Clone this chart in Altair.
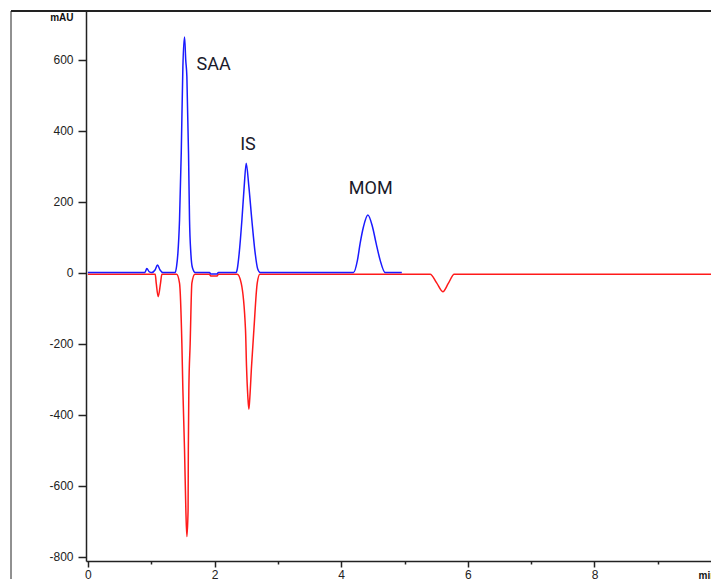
import altair as alt
import pandas as pd

# ---- data ----
blue_time = [0.0, 0.90, 0.931, 0.97, 1.01, 1.06, 1.099, 1.14, 1.184, 1.379, 1.40, 1.421, 1.447, 1.474,
             1.500, 1.526, 1.545, 1.563, 1.589, 1.605, 1.626, 1.65, 1.695, 1.92, 1.94, 2.04, 2.06,
             2.342, 2.36, 2.389, 2.432, 2.468, 2.50, 2.542, 2.589, 2.642, 2.68, 2.721,
             4.194, 4.257, 4.299, 4.352, 4.421, 4.494, 4.552, 4.615, 4.694, 4.957]
blue_mau = [1, 1, 12, 3, 1, 8, 22, 8, 1, 1, 18, 55, 149, 337,
            581, 665, 600, 553, 337, 149, 55, 15, 1, 1, -3, -3, 1,
            1, 12, 55, 149, 243, 309, 243, 149, 55, 12, 1,
            1, 36, 83, 130, 163, 130, 83, 36, 1, 1]

red_time = [0.0, 1.063, 1.079, 1.110, 1.147, 1.168, 1.40, 1.447, 1.484, 1.500, 1.526, 1.547, 1.563,
            1.582, 1.586, 1.594, 1.615, 1.642, 1.69, 1.92, 1.94, 2.04, 2.06,
            2.358, 2.421, 2.489, 2.505, 2.526, 2.542, 2.558, 2.584, 2.621, 2.674, 2.716,
            5.405, 5.510, 5.605, 5.694, 5.784, 9.84]
red_mau = [-4, -4, -29, -67, -29, -4, -4, -29, -199, -330, -499, -668, -743,
           -668, -499, -330, -199, -29, -4, -4, -9, -9, -4,
           -4, -29, -161, -264, -349, -384, -349, -264, -161, -29, -4,
           -4, -29, -53, -29, -4, -4]

peak_names = ["SAA", "IS", "MOM"]
peak_time = [1.526, 2.50, 4.421]
peak_mau = [665, 309, 163]

x_tick_values = [0, 0.5, 1, 1.5, 2, 2.5, 3, 3.5, 4, 4.5, 5, 5.5, 6, 6.5, 7, 7.5, 8, 8.5, 9, 9.5]
y_tick_values = [-800, -750, -700, -650, -600, -550, -500, -450, -400, -350, -300, -250, -200,
                 -150, -100, -50, 0, 50, 100, 150, 200, 250, 300, 350, 400, 450, 500, 550,
                 600, 650, 700]

# ---- tables ----
blue_df = pd.DataFrame({"time": blue_time, "mAU": blue_mau})
red_df = pd.DataFrame({"time": red_time, "mAU": red_mau})
label_df = pd.DataFrame({"name": peak_names, "time": peak_time, "mAU": peak_mau})

x_scale = alt.Scale(domain=[-0.03, 9.84], nice=False, zero=False)
y_scale = alt.Scale(domain=[-812, 738], nice=False, zero=False)

x_enc = alt.X(
    "time:Q", scale=x_scale,
    axis=alt.Axis(
        values=x_tick_values,
        labelExpr="datum.value % 2 === 0 ? '' + datum.value : ''",
        tickSize={"condition": {"test": "datum.value % 2 === 0", "value": 6}, "value": 3},
        labelPadding=2,
        title="min", titleAngle=0, titleX=612, titleY=17,
        titleAlign="left", titleBaseline="alphabetic",
        titleFontWeight="bold", titleFontSize=10,
    ),
)
y_enc = alt.Y(
    "mAU:Q", scale=y_scale,
    axis=alt.Axis(
        values=y_tick_values,
        labelExpr="datum.value % 200 === 0 ? '' + datum.value : ''",
        tickSize={"condition": {"test": "datum.value % 200 === 0", "value": 8}, "value": 4},
        labelPadding=5,
        title="mAU", titleAngle=0, titleX=-13, titleY=9,
        titleAlign="right", titleBaseline="alphabetic",
        titleFontWeight="bold", titleFontSize=10,
    ),
)

red_line = alt.Chart(red_df).mark_line(color="#ff1a1a", strokeWidth=1.5, interpolate="monotone").encode(
    x=x_enc, y=y_enc, order="time:Q")
blue_line = alt.Chart(blue_df).mark_line(color="#1a1aff", strokeWidth=1.5, interpolate="monotone").encode(
    x=alt.X("time:Q", scale=x_scale), y=alt.Y("mAU:Q", scale=y_scale), order="time:Q")

offsets = {"SAA": (12, 33), "IS": (-6, -13), "MOM": (-19, -21)}
text_layers = []
for name in peak_names:
    dx, dy = offsets[name]
    text_layers.append(
        alt.Chart(label_df).transform_filter(alt.datum.name == name).mark_text(
            align="left", baseline="alphabetic", dx=dx, dy=dy,
            font="Liberation Sans Narrow, Roboto, sans-serif", fontSize=18, color="#1a1a2a",
        ).encode(
            x=alt.X("time:Q", scale=x_scale), y=alt.Y("mAU:Q", scale=y_scale), text="name:N")
    )

frame_top = alt.Chart(alt.Data(values=[{}])).mark_rule(color="#222", strokeWidth=2).encode(
    x=alt.value(-75), x2=alt.value(700), y=alt.value(0))
frame_left = alt.Chart(alt.Data(values=[{}])).mark_rule(color="#222", strokeWidth=1).encode(
    x=alt.value(-75), y=alt.value(0), y2=alt.value(600))

chart = alt.layer(red_line, blue_line, *text_layers, frame_top, frame_left).properties(
    width=625, height=550,
    padding={"left": 86, "top": 11, "right": 0, "bottom": 18},
    autosize=alt.AutoSizeParams(type="none"),
    background="white",
).configure_view(strokeWidth=0).configure_axis(
    grid=False,
    domainColor="#222", domainWidth=1.5,
    tickColor="#222", tickWidth=1.5,
    labelFont="Liberation Sans", labelFontSize=12, labelColor="#222",
    titleFont="Liberation Sans", titleColor="#111",
)

chart.save("out.html", embed_options={"renderer": "svg", "actions": False})
